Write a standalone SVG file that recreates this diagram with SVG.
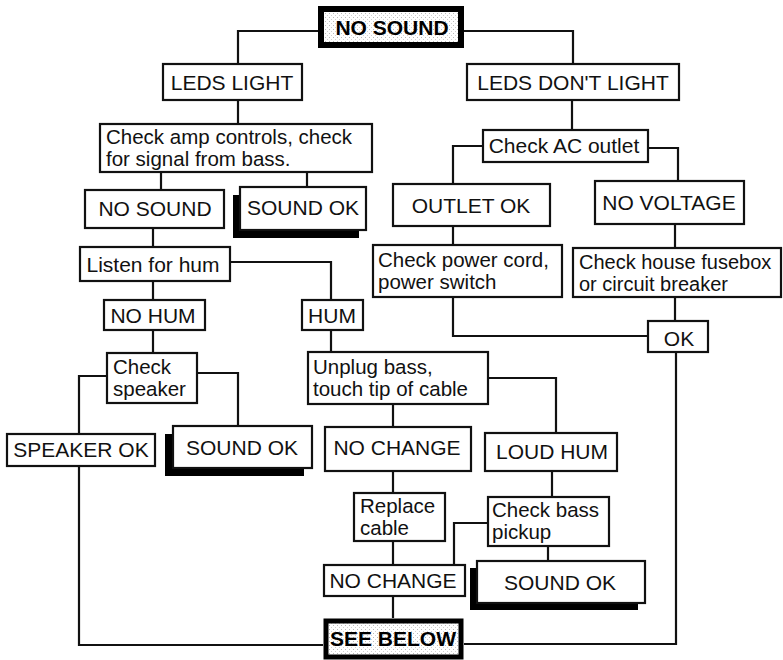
<svg xmlns="http://www.w3.org/2000/svg" width="783" height="660" viewBox="0 0 783 660">
<defs>
<pattern id="grain" width="4" height="4" patternUnits="userSpaceOnUse">
<rect width="4" height="4" fill="#ffffff"/>
<rect x="1" y="1" width="1" height="1" fill="#b8b8b8"/>
<rect x="3" y="3" width="1" height="1" fill="#d0d0d0"/>
</pattern>
</defs>
<style>
.bx{fill:#fff;stroke:#111;stroke-width:2.2}
.thick{fill:url(#grain);stroke:#000;stroke-width:6}
.sh{fill:#000}
.t{font-family:"Liberation Sans",Arial,sans-serif;font-size:21px;fill:#111}
.m{font-size:20.5px}
.c{text-anchor:middle}
.b{font-weight:bold;fill:#000}
.cn{fill:none;stroke:#111;stroke-width:2.2}
</style>
<rect width="783" height="660" fill="#fff"/>
<g id="connectors" class="cn">
<polyline points="318,31 238,31 238,64"/>
<polyline points="464,31 573,31 573,64"/>
<polyline points="238,100 238,124"/>
<polyline points="161,172 161,190"/>
<polyline points="307,172 307,187"/>
<polyline points="153,228 153,247"/>
<polyline points="230,262 331,262 331,300"/>
<polyline points="153,281 153,300"/>
<polyline points="153,330 153,353"/>
<polyline points="107,376 79,376 79,434"/>
<polyline points="197,373 238,373 238,426"/>
<polyline points="79,466 79,645 323,645"/>
<polyline points="331,330 331,352"/>
<polyline points="393,404 393,427"/>
<polyline points="488,378 556,378 556,433"/>
<polyline points="393,471 393,493"/>
<polyline points="393,541 393,565"/>
<polyline points="393,596 393,618"/>
<polyline points="552,471 552,497"/>
<polyline points="488,523 454,523 454,565"/>
<polyline points="548,546 548,561"/>
<polyline points="572,100 572,130"/>
<polyline points="483,146 453,146 453,184"/>
<polyline points="648,148 678,148 678,181"/>
<polyline points="453,226 453,245"/>
<polyline points="675,224 675,248"/>
<polyline points="453,297 453,336 648,336"/>
<polyline points="675,297 675,321"/>
<polyline points="676,352 676,644 464,644"/>
</g>
<g id="n-nosound-top"><rect class="thick" x="321" y="9" width="140" height="36"/><text class="t c b" x="392" y="35">NO SOUND</text></g>
<g id="n-leds-light"><rect class="bx" x="163" y="64" width="139" height="36"/><text class="t c" x="232" y="90">LEDS LIGHT</text></g>
<g id="n-leds-dont"><rect class="bx" x="467" y="64" width="212" height="36"/><text class="t c" x="573" y="90">LEDS DON'T LIGHT</text></g>
<g id="n-check-amp"><rect class="bx" x="100" y="124" width="272" height="48"/><text class="t m" x="106" y="144">Check amp controls, check</text><text class="t m" x="106" y="166">for signal from bass.</text></g>
<g id="n-nosound-left"><rect class="bx" x="85" y="190" width="139" height="38"/><text class="t c" x="155" y="216">NO SOUND</text></g>
<g id="n-soundok-1"><rect class="sh" x="233" y="195" width="126" height="43"/><rect class="bx" x="240" y="187" width="126" height="43"/><text class="t c" x="303" y="215">SOUND OK</text></g>
<g id="n-check-ac"><rect class="bx" x="483" y="130" width="165" height="32"/><text class="t c" x="564" y="153">Check AC outlet</text></g>
<g id="n-outlet-ok"><rect class="bx" x="393" y="184" width="157" height="42"/><text class="t c" x="471" y="213">OUTLET OK</text></g>
<g id="n-no-voltage"><rect class="bx" x="595" y="181" width="149" height="43"/><text class="t c" x="669" y="210">NO VOLTAGE</text></g>
<g id="n-listen"><rect class="bx" x="80" y="247" width="150" height="34"/><text class="t c" x="153" y="272">Listen for hum</text></g>
<g id="n-no-hum"><rect class="bx" x="104" y="300" width="101" height="30"/><text class="t c" x="153" y="323">NO HUM</text></g>
<g id="n-hum"><rect class="bx" x="302" y="300" width="61" height="30"/><text class="t c" x="332" y="323">HUM</text></g>
<g id="n-check-power"><rect class="bx" x="373" y="245" width="189" height="52"/><text class="t m" x="378" y="267">Check power cord,</text><text class="t m" x="378" y="289">power switch</text></g>
<g id="n-check-house"><rect class="bx" x="573" y="248" width="208" height="49"/><text class="t" x="579" y="269" style="font-size:20px">Check house fusebox</text><text class="t" x="579" y="291" style="font-size:20px">or circuit breaker</text></g>
<g id="n-ok"><rect class="bx" x="648" y="321" width="60" height="31"/><text class="t c" x="679" y="346">OK</text></g>
<g id="n-check-speaker"><rect class="bx" x="107" y="353" width="90" height="50"/><text class="t m" x="113" y="374">Check</text><text class="t m" x="113" y="396">speaker</text></g>
<g id="n-unplug"><rect class="bx" x="308" y="352" width="180" height="52"/><text class="t m" x="313" y="374">Unplug bass,</text><text class="t m" x="313" y="396">touch tip of cable</text></g>
<g id="n-speaker-ok"><rect class="bx" x="7" y="434" width="148" height="32"/><text class="t c" x="81" y="457">SPEAKER OK</text></g>
<g id="n-soundok-2"><rect class="sh" x="165" y="434" width="139" height="42"/><rect class="bx" x="173" y="426" width="139" height="42"/><text class="t c" x="242" y="455">SOUND OK</text></g>
<g id="n-nochange-1"><rect class="bx" x="325" y="427" width="146" height="44"/><text class="t c" x="397" y="455">NO CHANGE</text></g>
<g id="n-loud-hum"><rect class="bx" x="485" y="433" width="132" height="38"/><text class="t c" x="552" y="459">LOUD HUM</text></g>
<g id="n-replace"><rect class="bx" x="354" y="493" width="91" height="48"/><text class="t m" x="360" y="513">Replace</text><text class="t m" x="360" y="535">cable</text></g>
<g id="n-check-bass"><rect class="bx" x="488" y="497" width="121" height="49"/><text class="t m" x="492" y="517">Check bass</text><text class="t m" x="492" y="539">pickup</text></g>
<g id="n-nochange-2"><rect class="bx" x="324" y="565" width="141" height="31"/><text class="t c" x="393" y="588">NO CHANGE</text></g>
<g id="n-soundok-3"><rect class="sh" x="470" y="568" width="168" height="42"/><rect class="bx" x="477" y="561" width="168" height="42"/><text class="t c" x="560" y="590">SOUND OK</text></g>
<g id="n-see-below"><rect class="thick" x="326" y="621" width="135" height="36" style="stroke-width:5"/><text class="t c b" x="393" y="646">SEE BELOW</text></g>
</svg>
